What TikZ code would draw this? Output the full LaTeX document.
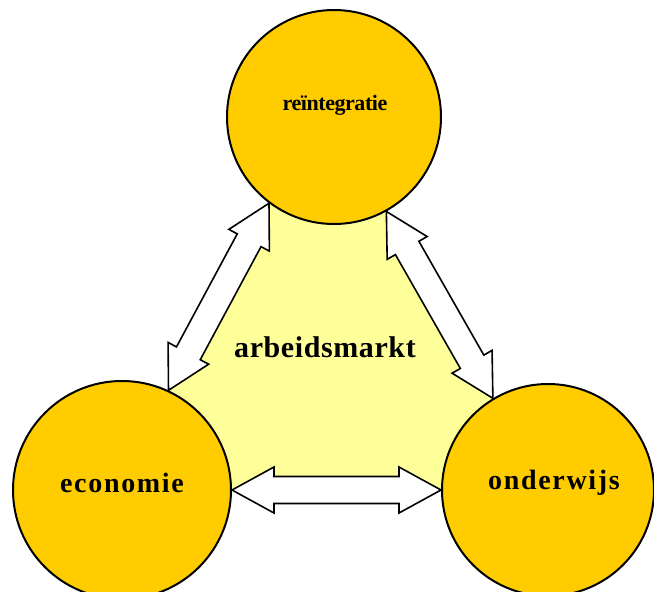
\documentclass[tikz,border=0pt]{standalone}
\usepackage{fontspec}
\setmainfont{Liberation Serif}
\newfontfamily\lblfont[LetterSpace=6]{Liberation Serif}
\newfontfamily\midfont[LetterSpace=2]{Liberation Serif}
\newfontfamily\topfont[LetterSpace=-2]{Liberation Serif}
\usetikzlibrary{calc}
\definecolor{bubblefill}{HTML}{FFCC00}
\definecolor{marketfill}{HTML}{FFFF99}
\pgfdeclarelayer{background}
\pgfsetlayers{background,main}
\newcommand\blockarr[2]{%
  \draw[arrowbox] (#1)
    -- ($(#1)!42pt!(#2)!23pt!90:(#2)$)
    -- ($(#1)!42pt!(#2)!13.5pt!90:(#2)$)
    -- ($(#2)!42pt!(#1)!13.5pt!-90:(#1)$)
    -- ($(#2)!42pt!(#1)!23pt!-90:(#1)$)
    -- (#2)
    -- ($(#2)!42pt!(#1)!23pt!90:(#1)$)
    -- ($(#2)!42pt!(#1)!13.5pt!90:(#1)$)
    -- ($(#1)!42pt!(#2)!13.5pt!-90:(#2)$)
    -- ($(#1)!42pt!(#2)!23pt!-90:(#2)$)
    -- cycle;}
\tikzset{
  bubble/.style={circle, draw=black, line width=2pt, fill=bubblefill, inner sep=0pt},
  arrowbox/.style={draw=black, line width=1.6pt, fill=white, line join=miter},
  lbl/.style={inner sep=0pt, font=\lblfont\bfseries\fontsize{28pt}{30pt}\selectfont},
}
\begin{document}
\begin{tikzpicture}[x=1pt, y=-1pt]
\useasboundingbox (0,0) rectangle (654,592);
% circles
\node[bubble, minimum size=214pt] (reint) at (334,117) {};
\node[bubble, minimum size=218pt] (eco) at (122,490) {};
\node[bubble, minimum size=212pt] (ond) at (548,490) {};
% labels
\node[inner sep=0pt, font=\topfont\bfseries\fontsize{22pt}{24pt}\selectfont] (reintt) at (335,105) {reïntegratie};
\node[lbl] (ecot) at (122,483) {economie};
\node[lbl] (ondt) at (554,483) {onderwijs};
\node[inner sep=0pt, font=\midfont\bfseries\fontsize{30pt}{32pt}\selectfont] (arbt) at (325,347) {arbeidsmarkt};
% arrow tips
\coordinate (l1) at (eco.65.6);
\coordinate (l2) at (reint.233.2);
\coordinate (r1) at (reint.299.2);
\coordinate (r2) at (ond.121.4);
\coordinate (b1) at (eco.0);
\coordinate (b2) at (ond.180);
\begin{pgfonlayer}{background}
\fill[marketfill] (l1) -- (l2) -- (r1) -- (r2) -- (b2) -- (b1) -- cycle;
\blockarr{l1}{l2}
\blockarr{r1}{r2}
\blockarr{b1}{b2}
\end{pgfonlayer}
\end{tikzpicture}
\end{document}
